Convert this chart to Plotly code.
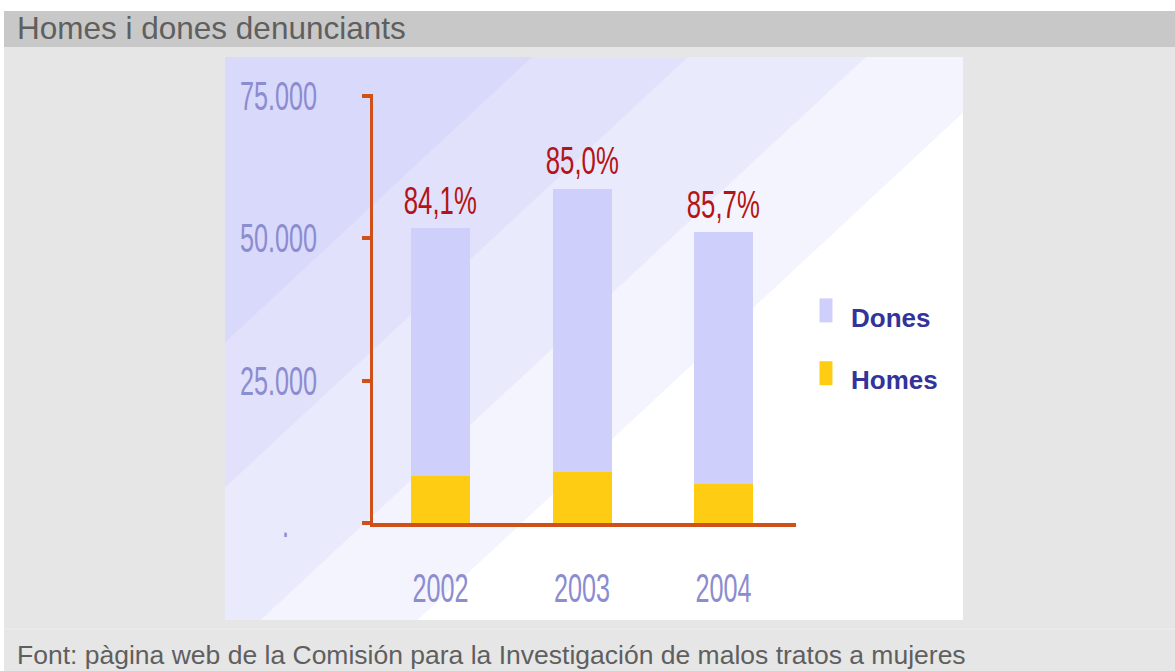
import plotly.graph_objects as go

W, H = 1175, 671

# ---- data ----
years = ["2002", "2003", "2004"]
dones = [43530, 49830, 44150]
homes = [8220, 8920, 6900]
pct_labels = ["84,1%", "85,0%", "85,7%"]
y_tickvals = [0, 25000, 50000, 75000]
y_ticktext = [".\u00a0\u00a0\u00a0\u00a0", "25.000", "50.000", "75.000"]
title_text = "Homes i dones denunciants"
source_text = "Font: pàgina web de la Comisión para la Investigación de malos tratos a mujeres"

# ---- style ----
AXIS = "#d0501a"
TICKC = "#8c8cd0"
RED = "#b41414"
DONES_C = "#cfcffc"
HOMES_C = "#ffcc14"
SANS = "Liberation Sans, Arial, sans-serif"


def px(x):
    return x / W


def py(y):
    return 1 - y / H


def clip(poly, a, c):
    """keep region where a*x + y >= c"""
    out = []
    n = len(poly)
    for i in range(n):
        p, q = poly[i], poly[(i + 1) % n]
        fp = a * p[0] + p[1] - c
        fq = a * q[0] + q[1] - c
        if fp >= 0:
            out.append(p)
        if (fp >= 0) != (fq >= 0):
            t = fp / (fp - fq)
            out.append((p[0] + t * (q[0] - p[0]), p[1] + t * (q[1] - p[1])))
    return out


def path_of(poly):
    pts = [f"{px(x):.5f},{py(y):.5f}" for x, y in poly]
    return "M" + " L".join(pts) + " Z"


shapes = []
# header bar and panel
shapes.append(dict(type="rect", xref="paper", yref="paper", x0=px(4), x1=px(1175), y0=py(47), y1=py(11),
                   fillcolor="#c8c8c8", line_width=0, layer="below"))
shapes.append(dict(type="rect", xref="paper", yref="paper", x0=px(4), x1=px(1175), y0=py(671), y1=py(47),
                   fillcolor="#e6e6e6", line_width=0, layer="below"))
shapes.append(dict(type="line", xref="paper", yref="paper", x0=px(4), x1=px(1175), y0=py(629), y1=py(629),
                   line=dict(color="#eeeeee", width=1), layer="below"))

# inner image with diagonal bands
rect = [(225, 57), (963, 57), (963, 620), (225, 620)]
slope = 0.93
band_cols = ["#d9d9fc", "#e1e1fc", "#eaeafd", "#f4f4fe", "#ffffff"]
band_tops = [532, 688, 866, 1023]
shapes.append(dict(type="path", xref="paper", yref="paper", path=path_of(rect),
                   fillcolor=band_cols[0], line_width=0, layer="below"))
for col, xt in zip(band_cols[1:], band_tops):
    poly = clip(rect, slope, slope * xt + 57)
    if len(poly) >= 3:
        shapes.append(dict(type="path", xref="paper", yref="paper", path=path_of(poly),
                           fillcolor=col, line_width=0, layer="below"))

fig = go.Figure()
fig.add_trace(go.Bar(x=years, y=homes, name="Homes", marker=dict(color=HOMES_C, line_width=0),
                     width=0.417, legendgroup="h", legendrank=2, hoverinfo="skip"))
fig.add_trace(go.Bar(x=years, y=dones, name="Dones", marker=dict(color=DONES_C, line_width=0),
                     width=0.417, legendgroup="d", legendrank=1, hoverinfo="skip"))

annotations = []
for i, (d, h, lab) in enumerate(zip(dones, homes, pct_labels)):
    annotations.append(dict(x=i, y=d + h, xref="x", yref="y", text=lab, showarrow=False,
                            yanchor="middle", yshift=28, font=dict(family=SANS, size=39, color=RED)))
annotations.append(dict(x=px(15), y=py(28), xref="paper", yref="paper", text=title_text, showarrow=False,
                        xanchor="left", yanchor="middle", font=dict(family=SANS, size=31.5, color="#5f5f5f")))
annotations.append(dict(x=px(15), y=py(655), xref="paper", yref="paper", text=source_text, showarrow=False,
                        xanchor="left", yanchor="middle", font=dict(family=SANS, size=26.5, color="#5f5f5f")))

fig.update_layout(
    width=W, height=H, autosize=False,
    margin=dict(l=0, r=0, t=0, b=0, pad=0),
    paper_bgcolor="white", plot_bgcolor="white",
    barmode="stack",
    shapes=shapes,
    annotations=annotations,
    showlegend=True,
    legend=dict(x=px(811), y=py(293), xanchor="left", yanchor="top",
                traceorder="grouped", tracegroupgap=26,
                bgcolor="rgba(0,0,0,0)", itemwidth=30,
                font=dict(family=SANS, size=26, color="#333399", weight="bold")),
    xaxis=dict(type="category", domain=[px(373), px(796)], range=[-0.477, 2.512],
               showline=True, linecolor=AXIS, linewidth=4, ticks="", showgrid=False,
               tickfont=dict(family=SANS, size=40, color=TICKC), ticklabelstandoff=27,
               automargin=False, fixedrange=True),
    yaxis=dict(domain=[py(523), py(94)], range=[0, 75351], tickmode="array",
               tickvals=y_tickvals, ticktext=y_ticktext,
               showline=True, linecolor=AXIS, linewidth=3, ticks="outside", ticklen=8,
               tickwidth=4, tickcolor=AXIS, showgrid=False, zeroline=False,
               tickfont=dict(family=SANS, size=40, color=TICKC), ticklabelstandoff=37,
               automargin=False, fixedrange=True),
)

post = r"""
(function(){
  document.body.style.margin = '0';
  var gd = document.getElementById('{plot_id}');
  function squeeze(el, sx){
    if (el.getAttribute('data-sq')) return;
    el.setAttribute('data-sq', '1');
    var bb = el.getBBox();
    var anc = el.getAttribute('text-anchor') || 'start';
    var cx = anc === 'end' ? bb.x + bb.width : (anc === 'middle' ? bb.x + bb.width / 2 : bb.x);
    var t = el.getAttribute('transform') || '';
    el.setAttribute('transform', t + ' translate(' + cx + ',0) scale(' + sx + ',1) translate(' + (-cx) + ',0)');
  }
  gd.querySelectorAll('.xtick text, .ytick text').forEach(function(e){ squeeze(e, 0.63); });
  gd.querySelectorAll('.annotation-text').forEach(function(e){
    if (/%$/.test(e.textContent)) squeeze(e, 0.66);
  });
  gd.querySelectorAll('.legendpoints path').forEach(function(e){
    if (e.getAttribute('data-sq')) return;
    e.setAttribute('data-sq', '1');
    var t = e.getAttribute('transform') || '';
    e.setAttribute('transform', t + ' translate(-5,-6) scale(1.08,2)');
  });
})();
"""

fig.write_html("out.html", post_script=post, config={"displayModeBar": False})
